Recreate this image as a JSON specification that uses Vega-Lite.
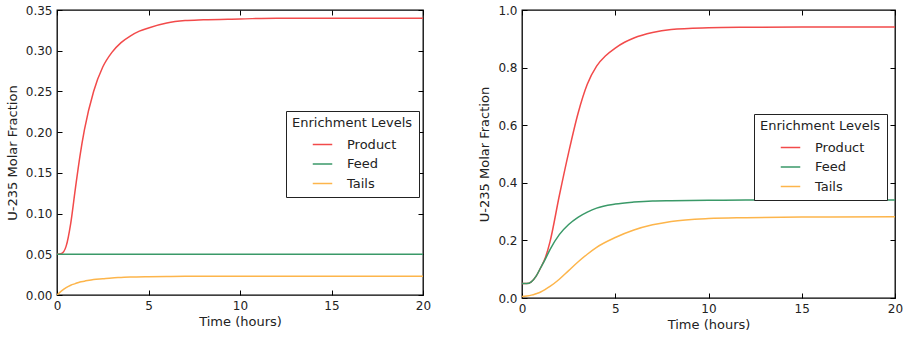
{
  "$schema": "https://vega.github.io/schema/vega-lite/v6.json",
  "padding": {"left": 5, "top": 3, "right": 0, "bottom": 0},
  "background": "white",
  "config": {
    "font": "DejaVu Sans",
    "view": {"stroke": "black", "strokeWidth": 1.3},
    "axis": {"grid": false, "domain": false, "ticks": true, "tickColor": "black", "tickSize": -5, "tickWidth": 1, "labelFontSize": 12, "labelColor": "#222", "titleFontSize": 13, "titleFontWeight": "normal", "titleColor": "#222", "labelPadding": 10, "labelFlush": false, "labelOverlap": false},
    "legend": {"orient": "none", "symbolType": "stroke", "symbolSize": 380, "symbolStrokeWidth": 1.5, "strokeColor": "#222", "fillColor": "white", "padding": 6, "titleFontSize": 13, "labelFontSize": 13, "titleFontWeight": "normal", "titleColor": "#222", "labelColor": "#222", "symbolOffset": 20, "labelOffset": 14, "rowPadding": 1.5, "titlePadding": 4}
  },
  "spacing": 46,
  "resolve": {"legend": {"color": "independent"}},
  "datasets": {
    "left": [
      {"t": 0, "series": "Product", "v": 0.050}, {"t": 0.25, "series": "Product", "v": 0.051}, {"t": 0.5, "series": "Product", "v": 0.060}, {"t": 0.75, "series": "Product", "v": 0.088}, {"t": 1, "series": "Product", "v": 0.130}, {"t": 1.25, "series": "Product", "v": 0.170}, {"t": 1.5, "series": "Product", "v": 0.203}, {"t": 2, "series": "Product", "v": 0.250}, {"t": 2.5, "series": "Product", "v": 0.280}, {"t": 3, "series": "Product", "v": 0.298}, {"t": 3.5, "series": "Product", "v": 0.310}, {"t": 4, "series": "Product", "v": 0.318}, {"t": 4.5, "series": "Product", "v": 0.324}, {"t": 5, "series": "Product", "v": 0.328}, {"t": 6, "series": "Product", "v": 0.334}, {"t": 7, "series": "Product", "v": 0.337}, {"t": 8, "series": "Product", "v": 0.338}, {"t": 10, "series": "Product", "v": 0.339}, {"t": 12, "series": "Product", "v": 0.340}, {"t": 15, "series": "Product", "v": 0.340}, {"t": 20, "series": "Product", "v": 0.340},
      {"t": 0, "series": "Feed", "v": 0.05}, {"t": 5, "series": "Feed", "v": 0.05}, {"t": 10, "series": "Feed", "v": 0.05}, {"t": 15, "series": "Feed", "v": 0.05}, {"t": 20, "series": "Feed", "v": 0.05},
      {"t": 0, "series": "Tails", "v": 0.0}, {"t": 0.25, "series": "Tails", "v": 0.005}, {"t": 0.5, "series": "Tails", "v": 0.009}, {"t": 0.75, "series": "Tails", "v": 0.012}, {"t": 1, "series": "Tails", "v": 0.014}, {"t": 1.25, "series": "Tails", "v": 0.016}, {"t": 1.5, "series": "Tails", "v": 0.017}, {"t": 2, "series": "Tails", "v": 0.019}, {"t": 2.5, "series": "Tails", "v": 0.020}, {"t": 3, "series": "Tails", "v": 0.021}, {"t": 3.5, "series": "Tails", "v": 0.0215}, {"t": 4, "series": "Tails", "v": 0.022}, {"t": 5, "series": "Tails", "v": 0.0225}, {"t": 6, "series": "Tails", "v": 0.0228}, {"t": 7, "series": "Tails", "v": 0.023}, {"t": 8, "series": "Tails", "v": 0.023}, {"t": 10, "series": "Tails", "v": 0.023}, {"t": 12, "series": "Tails", "v": 0.023}, {"t": 15, "series": "Tails", "v": 0.023}, {"t": 20, "series": "Tails", "v": 0.023}
    ],
    "right": [
      {"t": 0, "series": "Product", "v": 0.050}, {"t": 0.25, "series": "Product", "v": 0.050}, {"t": 0.5, "series": "Product", "v": 0.056}, {"t": 0.75, "series": "Product", "v": 0.075}, {"t": 1, "series": "Product", "v": 0.105}, {"t": 1.25, "series": "Product", "v": 0.140}, {"t": 1.5, "series": "Product", "v": 0.195}, {"t": 2, "series": "Product", "v": 0.355}, {"t": 2.5, "series": "Product", "v": 0.505}, {"t": 3, "series": "Product", "v": 0.640}, {"t": 3.5, "series": "Product", "v": 0.742}, {"t": 4, "series": "Product", "v": 0.805}, {"t": 4.5, "series": "Product", "v": 0.842}, {"t": 5, "series": "Product", "v": 0.868}, {"t": 5.5, "series": "Product", "v": 0.888}, {"t": 6, "series": "Product", "v": 0.903}, {"t": 7, "series": "Product", "v": 0.922}, {"t": 8, "series": "Product", "v": 0.932}, {"t": 10, "series": "Product", "v": 0.938}, {"t": 12, "series": "Product", "v": 0.940}, {"t": 15, "series": "Product", "v": 0.941}, {"t": 20, "series": "Product", "v": 0.941},
      {"t": 0, "series": "Feed", "v": 0.050}, {"t": 0.25, "series": "Feed", "v": 0.050}, {"t": 0.5, "series": "Feed", "v": 0.056}, {"t": 0.75, "series": "Feed", "v": 0.075}, {"t": 1, "series": "Feed", "v": 0.105}, {"t": 1.25, "series": "Feed", "v": 0.135}, {"t": 1.5, "series": "Feed", "v": 0.168}, {"t": 2, "series": "Feed", "v": 0.220}, {"t": 2.5, "series": "Feed", "v": 0.255}, {"t": 3, "series": "Feed", "v": 0.280}, {"t": 3.5, "series": "Feed", "v": 0.298}, {"t": 4, "series": "Feed", "v": 0.312}, {"t": 5, "series": "Feed", "v": 0.326}, {"t": 6, "series": "Feed", "v": 0.333}, {"t": 7, "series": "Feed", "v": 0.337}, {"t": 8, "series": "Feed", "v": 0.338}, {"t": 10, "series": "Feed", "v": 0.339}, {"t": 12, "series": "Feed", "v": 0.340}, {"t": 15, "series": "Feed", "v": 0.340}, {"t": 20, "series": "Feed", "v": 0.340},
      {"t": 0, "series": "Tails", "v": 0.005}, {"t": 0.25, "series": "Tails", "v": 0.007}, {"t": 0.5, "series": "Tails", "v": 0.010}, {"t": 0.75, "series": "Tails", "v": 0.015}, {"t": 1, "series": "Tails", "v": 0.021}, {"t": 1.25, "series": "Tails", "v": 0.030}, {"t": 1.5, "series": "Tails", "v": 0.040}, {"t": 2, "series": "Tails", "v": 0.065}, {"t": 2.5, "series": "Tails", "v": 0.095}, {"t": 3, "series": "Tails", "v": 0.125}, {"t": 3.5, "series": "Tails", "v": 0.152}, {"t": 4, "series": "Tails", "v": 0.176}, {"t": 5, "series": "Tails", "v": 0.210}, {"t": 6, "series": "Tails", "v": 0.236}, {"t": 7, "series": "Tails", "v": 0.254}, {"t": 8, "series": "Tails", "v": 0.266}, {"t": 10, "series": "Tails", "v": 0.276}, {"t": 12, "series": "Tails", "v": 0.279}, {"t": 15, "series": "Tails", "v": 0.281}, {"t": 20, "series": "Tails", "v": 0.282}
    ]
  },
  "hconcat": [
    {
      "width": 366, "height": 285,
      "data": {"name": "left"},
      "resolve": {"axis": {"x": "independent", "y": "independent"}},
      "layer": [
        {
          "mark": {"type": "line", "strokeWidth": 1.5, "interpolate": "monotone", "clip": true},
          "encoding": {
            "x": {"field": "t", "type": "quantitative", "scale": {"domain": [0, 20], "nice": false}, "axis": {"orient": "bottom", "title": "Time (hours)", "values": [0, 5, 10, 15, 20], "titlePadding": 4}},
            "y": {"field": "v", "type": "quantitative", "scale": {"domain": [0, 0.35], "nice": false, "zero": false}, "axis": {"orient": "left", "title": "U-235 Molar Fraction", "values": [0, 0.05, 0.1, 0.15, 0.2, 0.25, 0.3, 0.35], "format": ".2f", "titlePadding": 6}},
            "color": {"field": "series", "type": "nominal", "scale": {"domain": ["Product", "Feed", "Tails"], "range": ["#f24a4a", "#3a9968", "#fdb54b"]}, "legend": {"title": "Enrichment Levels", "legendX": 229, "legendY": 101}}
          }
        },
        {
          "mark": {"type": "line", "opacity": 0},
          "encoding": {
            "x": {"field": "t", "type": "quantitative", "axis": {"orient": "top", "labels": false, "title": null, "values": [0, 5, 10, 15, 20]}},
            "y": {"field": "v", "type": "quantitative", "axis": {"orient": "right", "labels": false, "title": null, "values": [0, 0.05, 0.1, 0.15, 0.2, 0.25, 0.3, 0.35]}}
          }
        }
      ]
    },
    {
      "width": 373, "height": 288,
      "data": {"name": "right"},
      "resolve": {"axis": {"x": "independent", "y": "independent"}},
      "layer": [
        {
          "mark": {"type": "line", "strokeWidth": 1.5, "interpolate": "monotone", "clip": true},
          "encoding": {
            "x": {"field": "t", "type": "quantitative", "scale": {"domain": [0, 20], "nice": false}, "axis": {"orient": "bottom", "title": "Time (hours)", "values": [0, 5, 10, 15, 20], "titlePadding": 4}},
            "y": {"field": "v", "type": "quantitative", "scale": {"domain": [0, 1], "nice": false, "zero": false}, "axis": {"orient": "left", "title": "U-235 Molar Fraction", "values": [0, 0.2, 0.4, 0.6, 0.8, 1.0], "format": ".1f", "titlePadding": 6}},
            "color": {"field": "series", "type": "nominal", "scale": {"domain": ["Product", "Feed", "Tails"], "range": ["#f24a4a", "#3a9968", "#fdb54b"]}, "legend": {"title": "Enrichment Levels", "legendX": 232, "legendY": 104}}
          }
        },
        {
          "mark": {"type": "line", "opacity": 0},
          "encoding": {
            "x": {"field": "t", "type": "quantitative", "axis": {"orient": "top", "labels": false, "title": null, "values": [0, 5, 10, 15, 20]}},
            "y": {"field": "v", "type": "quantitative", "axis": {"orient": "right", "labels": false, "title": null, "values": [0, 0.2, 0.4, 0.6, 0.8, 1.0]}}
          }
        }
      ]
    }
  ]
}
